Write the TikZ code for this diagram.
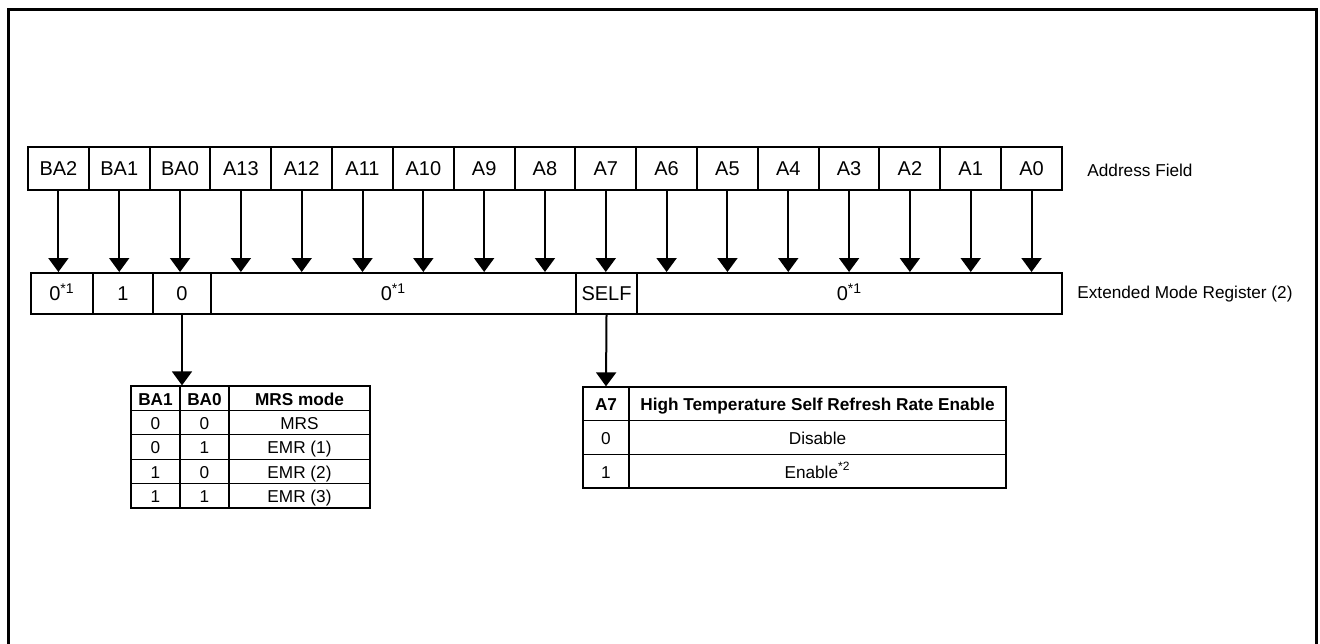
\documentclass[tikz,border=0pt]{standalone}
\usepackage{fontspec}
\setmainfont{Liberation Sans}
\usetikzlibrary{arrows.meta}
\begin{document}
\begin{tikzpicture}[x=0.5pt,y=-0.5pt,
  regbox/.style={draw, line width=1pt, inner sep=0pt, font=\fontsize{10}{12}\selectfont, minimum height=21.5pt, text height=1.6ex, text depth=0.3ex},
  cellA/.style={draw, line width=0.65pt, inner sep=0pt, font=\fontsize{8.6}{10}\selectfont, minimum height=12.2pt, text height=1.6ex, text depth=0.3ex},
  cellB/.style={draw, line width=0.65pt, inner sep=0pt, font=\fontsize{8.6}{10}\selectfont, minimum height=16.8pt, text height=1.6ex, text depth=0.3ex},
  lbl/.style={anchor=west, inner sep=0pt, font=\fontsize{8.6}{10}\selectfont},
  arr/.style={line width=1pt, -{Triangle[width=10pt,length=7pt]}},
  frame/.style={line width=1.5pt}
]
\useasboundingbox (0,0) rectangle (1320,643);
% outer frame (open at bottom)
\draw[frame] (8,650) -- (8,9) -- (1316,9) -- (1316,650);

% address field
\foreach \lab [count=\i from 0] in {BA2,BA1,BA0,A13,A12,A11,A10,A9,A8,A7,A6,A5,A4,A3,A2,A1,A0}{
  \node[regbox, minimum width=30.41pt] (t\i) at ({28+60.82*(\i+0.5)},168.5) {\lab};
}
\node[lbl] (af) at (1087,170) {Address Field};

% extended mode register row
\node[regbox, minimum width=31pt, minimum height=20.5pt] (b0) at (62,293.5) {0\textsuperscript{*1}};
\node[regbox, minimum width=30pt, minimum height=20.5pt] (b1) at (123,293.5) {1};
\node[regbox, minimum width=29pt, minimum height=20.5pt] (b2) at (182,293.5) {0};
\node[regbox, minimum width=182.5pt, minimum height=20.5pt] (b3) at (393.5,293.5) {0\textsuperscript{*1}};
\node[regbox, minimum width=30.5pt, minimum height=20.5pt] (b4) at (606.5,293.5) {SELF};
\node[regbox, minimum width=212.5pt, minimum height=20.5pt] (b5) at (849.5,293.5) {0\textsuperscript{*1}};
\node[lbl] (emr) at (1077,294) {Extended Mode Register (2)};

% arrows address -> register
\foreach \i/\b in {0/b0,1/b1,2/b2,3/b3,4/b3,5/b3,6/b3,7/b3,8/b3,9/b4,10/b5,11/b5,12/b5,13/b5,14/b5,15/b5,16/b5}{
  \draw[arr] (t\i.south) -- (t\i.south |- \b.north);
}

% MRS table
\foreach \r/\ba/\bz/\m [count=\k from 0] in {0/{\textbf{BA1}}/{\textbf{BA0}}/{\textbf{MRS mode}},1/0/0/MRS,2/0/1/EMR (1),3/1/0/EMR (2),4/1/1/EMR (3)}{
  \node[cellA, minimum width=24.5pt] (m\k a) at (155.5,{398.2+24.4*\k}) {\ba};
  \node[cellA, minimum width=24.5pt] (m\k b) at (204.5,{398.2+24.4*\k}) {\bz};
  \node[cellA, minimum width=70.5pt] (m\k c) at (299.5,{398.2+24.4*\k}) {\m};
}
\draw[arr] (b2.south) -- (b2.south |- m0a.north);

% A7 table
\node[cellB, minimum width=23pt] (a0) at (606,403.8) {\textbf{A7}};
\node[cellB, minimum width=188.5pt] (h0) at (817.5,403.8) {\textbf{High Temperature Self Refresh Rate Enable}};
\node[cellB, minimum width=23pt] (a1) at (606,437.5) {0};
\node[cellB, minimum width=188.5pt] (h1) at (817.5,437.5) {Disable};
\node[cellB, minimum width=23pt] (a2) at (606,471.2) {1};
\node[cellB, minimum width=188.5pt] (h2) at (817.5,471.2) {Enable\textsuperscript{*2}};
\draw[arr] (b4.south) -- (a0.north);
\end{tikzpicture}
\end{document}
